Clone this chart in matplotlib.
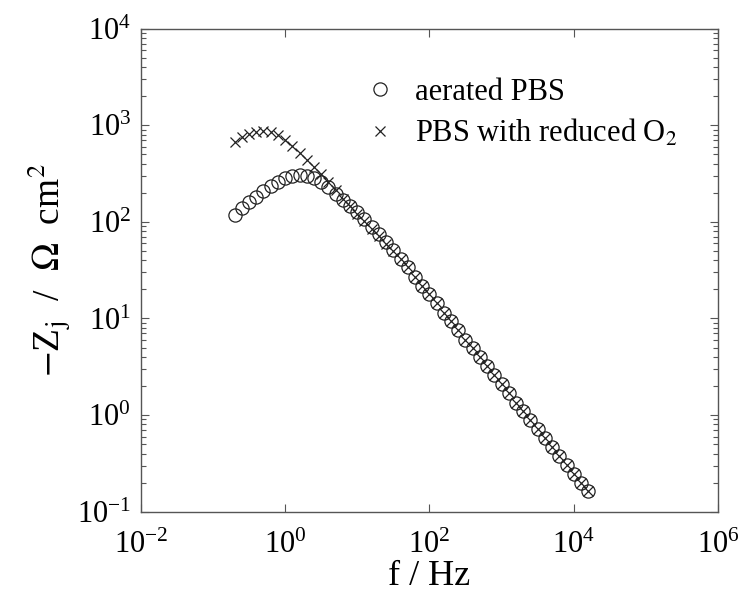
import numpy as np
import matplotlib
matplotlib.use("Agg")
import matplotlib.pyplot as plt
from matplotlib.ticker import LogLocator, NullLocator

plt.rcParams['font.family'] = ['Liberation Serif', 'DejaVu Serif']
plt.rcParams['mathtext.fontset'] = 'stix'

# Valeurs (log10 f, log10 -Zj)
log_f = [-0.7, -0.6, -0.5, -0.4, -0.3, -0.2, -0.1, 0.0, 0.1, 0.2,
         0.3, 0.4, 0.5, 0.6, 0.7, 0.8, 0.9, 1.0, 1.1, 1.2,
         1.3, 1.4, 1.5, 1.6, 1.7, 1.8, 1.9, 2.0, 2.1, 2.2,
         2.3, 2.4, 2.5, 2.6, 2.7, 2.8, 2.9, 3.0, 3.1, 3.2,
         3.3, 3.4, 3.5, 3.6, 3.7, 3.8, 3.9, 4.0, 4.1, 4.2]

log_z_aere = [2.07, 2.14, 2.20, 2.26, 2.32, 2.37, 2.41, 2.45, 2.47, 2.48,
              2.47, 2.45, 2.41, 2.36, 2.29, 2.23, 2.16, 2.10, 2.03, 1.95,
              1.87, 1.79, 1.71, 1.62, 1.53, 1.43, 1.34, 1.25, 1.16, 1.06,
              0.97, 0.88, 0.78, 0.69, 0.60, 0.51, 0.41, 0.32, 0.23, 0.13,
              0.04, -0.05, -0.14, -0.24, -0.33, -0.42, -0.52, -0.61, -0.70, -0.79]

log_z_reduit = [2.83, 2.88, 2.91, 2.93, 2.935, 2.93, 2.90, 2.85, 2.78, 2.71,
                2.64, 2.57, 2.49, 2.41, 2.33, 2.24, 2.16, 2.08, 2.01, 1.93,
                1.85, 1.77, 1.70, 1.62, 1.53, 1.43, 1.34, 1.25, 1.16, 1.06,
                0.97, 0.88, 0.78, 0.69, 0.60, 0.51, 0.41, 0.32, 0.23, 0.13,
                0.04, -0.05, -0.14, -0.24, -0.33, -0.42, -0.52, -0.61, -0.70, -0.79]

freq = 10 ** np.array(log_f)
z_aere = 10 ** np.array(log_z_aere)
z_reduit = 10 ** np.array(log_z_reduit)

fig = plt.figure(figsize=(7.41, 5.95), dpi=100)
ax = fig.add_axes([0.190, 0.140, 0.779, 0.812])

couleur = '#222222'
ax.loglog(freq, z_aere, 'o', mfc='none', mec=couleur, ms=9.5, mew=0.9,
          label='aerated PBS')
ax.loglog(freq, z_reduit, 'x', color=couleur, ms=7.5, mew=0.9,
          label=r'PBS with reduced O$_2$')

ax.set_xlim(1e-2, 1e6)
ax.set_ylim(1e-1, 1e4)
ax.xaxis.set_major_locator(LogLocator(base=100.0, numticks=10))
ax.xaxis.set_minor_locator(NullLocator())
ax.yaxis.set_major_locator(LogLocator(base=10.0, numticks=10))
ax.yaxis.set_minor_locator(LogLocator(base=10.0, subs=np.arange(2, 10), numticks=20))

ax.tick_params(which='both', direction='in', top=True, right=True,
               labelsize=22, color='#555555')
ax.tick_params(axis='x', pad=14)
ax.tick_params(axis='y', pad=7)
ax.tick_params(which='major', length=6, width=0.8)
ax.tick_params(which='minor', length=3.5, width=0.8)
for s in ax.spines.values():
    s.set_color('#555555')
    s.set_linewidth(1.0)

ax.set_xlabel('f / Hz', fontsize=26, labelpad=0)
ax.set_ylabel(r'$-$Z$_{\rm j}$  /  $\Omega$  cm$^2$', fontsize=27, labelpad=2)

ax.legend(loc='upper left', bbox_to_anchor=(368 / 741, 1 - 78 / 595),
          bbox_transform=fig.transFigure, frameon=False, fontsize=22,
          handlelength=0.8, handletextpad=0.75, borderpad=0, borderaxespad=0,
          labelspacing=0.35)

fig.savefig('out.png', dpi=100)
